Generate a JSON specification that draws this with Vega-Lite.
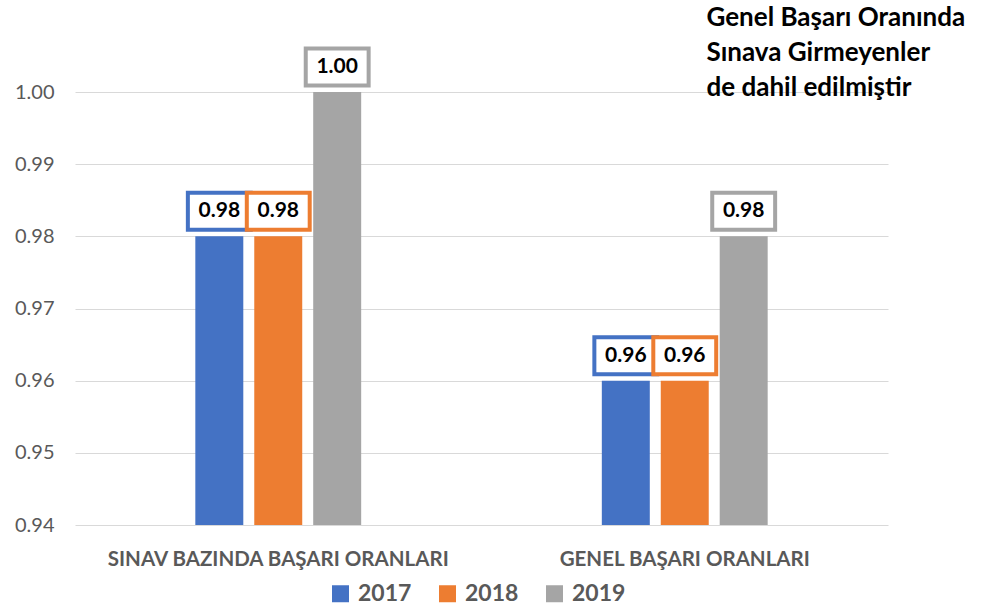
{
  "$schema": "https://vega.github.io/schema/vega-lite/v6.json",
  "width": 813,
  "height": 433,
  "autosize": {"type": "none"},
  "padding": {"left": 75, "top": 92, "right": 93, "bottom": 88},
  "background": "white",
  "title": {
    "text": ["Genel Başarı Oranında", "Sınava Girmeyenler", "de dahil edilmiştir"],
    "anchor": "start",
    "align": "left",
    "dx": 692,
    "offset": -60,
    "font": "Lato",
    "fontSize": 26,
    "fontWeight": "bold",
    "color": "#000000",
    "lineHeight": 35
  },
  "data": {
    "values": [
      {"group": "SINAV BAZINDA BAŞARI ORANLARI", "year": "2017", "value": 0.98},
      {"group": "SINAV BAZINDA BAŞARI ORANLARI", "year": "2018", "value": 0.98},
      {"group": "SINAV BAZINDA BAŞARI ORANLARI", "year": "2019", "value": 1.00},
      {"group": "GENEL BAŞARI ORANLARI", "year": "2017", "value": 0.96},
      {"group": "GENEL BAŞARI ORANLARI", "year": "2018", "value": 0.96},
      {"group": "GENEL BAŞARI ORANLARI", "year": "2019", "value": 0.98}
    ]
  },
  "encoding": {
    "x": {
      "field": "group",
      "type": "nominal",
      "sort": ["SINAV BAZINDA BAŞARI ORANLARI", "GENEL BAŞARI ORANLARI"],
      "scale": {"paddingInner": 0.592, "paddingOuter": 0.296},
      "axis": {
        "title": null,
        "labelAngle": 0,
        "labelFont": "Lato",
        "labelFontSize": 20.5,
        "labelFontWeight": "bold",
        "labelColor": "#595959",
        "labelPadding": 24,
        "labelLimit": 0,
        "ticks": false,
        "domain": false,
        "grid": false
      }
    },
    "xOffset": {
      "field": "year",
      "type": "nominal",
      "scale": {"paddingInner": 0.186, "paddingOuter": 0}
    },
    "y": {
      "field": "value",
      "type": "quantitative",
      "scale": {"domain": [0.94, 1.0], "zero": false, "nice": false},
      "axis": {
        "title": null,
        "values": [0.94, 0.95, 0.96, 0.97, 0.98, 0.99, 1.0],
        "format": ".2f",
        "labelFont": "Lato",
        "labelFontSize": 20,
        "labelColor": "#595959",
        "labelPadding": 21,
        "ticks": false,
        "domain": false,
        "grid": true,
        "gridColor": "#d9d9d9",
        "gridWidth": 1
      }
    }
  },
  "layer": [
    {
      "mark": {"type": "bar", "clip": true},
      "encoding": {
        "color": {
          "field": "year",
          "type": "nominal",
          "scale": {"domain": ["2017", "2018", "2019"], "range": ["#4472C4", "#ED7D31", "#A5A5A5"]},
          "legend": {
            "title": null,
            "orient": "none",
            "legendX": 254,
            "legendY": 490,
            "direction": "horizontal",
            "symbolType": "square",
            "symbolSize": 289,
            "symbolStrokeWidth": 0,
            "labelFont": "Lato",
            "labelFontSize": 23,
            "labelFontWeight": "bold",
            "labelColor": "#595959",
            "labelOffset": 6,
            "columnPadding": 24
          }
        }
      }
    },
    {
      "mark": {
        "type": "point",
        "shape": "M-1.7,-1H1.7V1H-1.7Z",
        "size": 1369,
        "filled": true,
        "fill": "white",
        "fillOpacity": 1,
        "strokeWidth": 4,
        "opacity": 1,
        "yOffset": -25
      },
      "encoding": {
        "stroke": {
          "field": "year",
          "type": "nominal",
          "scale": {"domain": ["2017", "2018", "2019"], "range": ["#4472C4", "#ED7D31", "#A5A5A5"]},
          "legend": null
        }
      }
    },
    {
      "mark": {
        "type": "text",
        "font": "Lato",
        "fontSize": 21,
        "fontWeight": "bold",
        "color": "#000000",
        "baseline": "middle",
        "align": "center",
        "yOffset": -25
      },
      "encoding": {
        "text": {"field": "value", "type": "quantitative", "format": ".2f"}
      }
    }
  ],
  "config": {
    "view": {"stroke": null}
  }
}
